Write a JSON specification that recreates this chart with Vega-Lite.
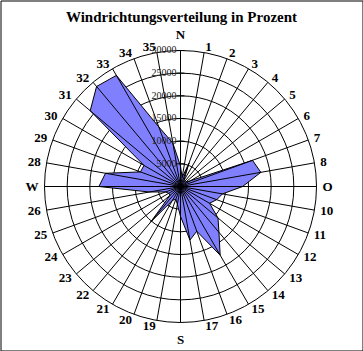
{
  "$schema": "https://vega.github.io/schema/vega-lite/v6.json",
  "width": 362,
  "height": 350,
  "autosize": {"type": "none"},
  "padding": {"left": 0.5, "top": 0.5, "right": 0.5, "bottom": 0.5},
  "background": "white",
  "config": {"view": {"stroke": "black", "strokeWidth": 1}},
  "title": {"text": "Windrichtungsverteilung in Prozent", "font": "Liberation Serif", "fontSize": 15, "fontWeight": "bold", "color": "black", "anchor": "middle", "frame": "group", "offset": -24},
  "datasets": {
    "dirs": [
      {"dir": 1, "value": 2000, "label": "1"},
      {"dir": 2, "value": 5500, "label": "2"},
      {"dir": 3, "value": 1500, "label": "3"},
      {"dir": 4, "value": 1500, "label": "4"},
      {"dir": 5, "value": 1500, "label": "5"},
      {"dir": 6, "value": 2500, "label": "6"},
      {"dir": 7, "value": 16900, "label": "7"},
      {"dir": 8, "value": 18000, "label": "8"},
      {"dir": 9, "value": 13700, "label": "O"},
      {"dir": 10, "value": 9400, "label": "10"},
      {"dir": 11, "value": 8500, "label": "11"},
      {"dir": 12, "value": 7400, "label": "12"},
      {"dir": 13, "value": 10800, "label": "13"},
      {"dir": 14, "value": 13200, "label": "14"},
      {"dir": 15, "value": 17500, "label": "15"},
      {"dir": 16, "value": 10500, "label": "16"},
      {"dir": 17, "value": 12000, "label": "17"},
      {"dir": 18, "value": 6600, "label": "S"},
      {"dir": 19, "value": 4000, "label": "19"},
      {"dir": 20, "value": 3000, "label": "20"},
      {"dir": 21, "value": 3500, "label": "21"},
      {"dir": 22, "value": 10300, "label": "22"},
      {"dir": 23, "value": 3000, "label": "23"},
      {"dir": 24, "value": 3000, "label": "24"},
      {"dir": 25, "value": 3500, "label": "25"},
      {"dir": 26, "value": 7000, "label": "26"},
      {"dir": 27, "value": 18000, "label": "W"},
      {"dir": 28, "value": 16800, "label": "28"},
      {"dir": 29, "value": 9400, "label": "29"},
      {"dir": 30, "value": 9300, "label": "30"},
      {"dir": 31, "value": 26000, "label": "31"},
      {"dir": 32, "value": 28800, "label": "32"},
      {"dir": 33, "value": 28300, "label": "33"},
      {"dir": 34, "value": 14000, "label": "34"},
      {"dir": 35, "value": 9700, "label": "35"},
      {"dir": 36, "value": 4500, "label": "N"}
    ],
    "rings": [
      {"r": 5000}, {"r": 10000}, {"r": 15000}, {"r": 20000}, {"r": 25000}, {"r": 30000}
    ]
  },
  "layer": [
    {
      "data": {"name": "rings"},
      "mark": {"type": "point", "shape": "circle", "filled": false, "stroke": "black", "strokeWidth": 1, "opacity": 1},
      "encoding": {
        "x": {"datum": 0, "type": "quantitative", "scale": {"domain": [-39706, 40147], "nice": false, "zero": false}, "axis": null},
        "y": {"datum": 0, "type": "quantitative", "scale": {"domain": [-36176, 41029], "nice": false, "zero": false}, "axis": null},
        "size": {"field": "r", "type": "quantitative", "scale": {"type": "pow", "exponent": 2, "domain": [0, 30000], "range": [0, 73984], "zero": true}, "legend": null}
      }
    },
    {
      "data": {"name": "dirs"},
      "transform": [
        {"calculate": "datum.dir*PI/18", "as": "a"},
        {"calculate": "datum.value*sin(datum.a)", "as": "px"},
        {"calculate": "datum.value*cos(datum.a)", "as": "py"}
      ],
      "mark": {"type": "line", "interpolate": "linear-closed", "fill": "#8080FF", "stroke": "black", "strokeWidth": 1},
      "encoding": {
        "x": {"field": "px", "type": "quantitative", "scale": {"domain": [-39706, 40147], "nice": false, "zero": false}, "axis": null},
        "y": {"field": "py", "type": "quantitative", "scale": {"domain": [-36176, 41029], "nice": false, "zero": false}, "axis": null},
        "order": {"field": "dir", "type": "quantitative"}
      }
    },
    {
      "data": {"name": "dirs"},
      "transform": [
        {"calculate": "datum.dir*PI/18", "as": "a"},
        {"calculate": "30000*sin(datum.a)", "as": "ex"},
        {"calculate": "30000*cos(datum.a)", "as": "ey"},
        {"calculate": "0", "as": "z"}
      ],
      "mark": {"type": "rule", "stroke": "black", "strokeWidth": 1},
      "encoding": {
        "x": {"field": "ex", "type": "quantitative", "scale": {"domain": [-39706, 40147], "nice": false, "zero": false}, "axis": null},
        "y": {"field": "ey", "type": "quantitative", "scale": {"domain": [-36176, 41029], "nice": false, "zero": false}, "axis": null},
        "x2": {"field": "z"},
        "y2": {"field": "z"}
      }
    },
    {
      "data": {"name": "rings"},
      "transform": [
        {"calculate": "-880", "as": "t1"},
        {"calculate": "880", "as": "t2"}
      ],
      "mark": {"type": "rule", "stroke": "black", "strokeWidth": 1},
      "encoding": {
        "x": {"field": "t1", "type": "quantitative", "scale": {"domain": [-39706, 40147], "nice": false, "zero": false}, "axis": null},
        "x2": {"field": "t2"},
        "y": {"field": "r", "type": "quantitative", "scale": {"domain": [-36176, 41029], "nice": false, "zero": false}, "axis": null}
      }
    },
    {
      "data": {"name": "rings"},
      "transform": [{"calculate": "0", "as": "z"}],
      "mark": {"type": "text", "align": "right", "baseline": "middle", "dx": -4, "font": "Liberation Serif", "fontSize": 10, "color": "#222222"},
      "encoding": {
        "x": {"field": "z", "type": "quantitative", "scale": {"domain": [-39706, 40147], "nice": false, "zero": false}, "axis": null},
        "y": {"field": "r", "type": "quantitative", "scale": {"domain": [-36176, 41029], "nice": false, "zero": false}, "axis": null},
        "text": {"field": "r", "type": "quantitative", "format": "d"}
      }
    },
    {
      "data": {"name": "dirs"},
      "transform": [
        {"filter": "datum.dir < 18"},
        {"calculate": "datum.dir*PI/18", "as": "a"},
        {"calculate": "31300*sin(datum.a)", "as": "lx"},
        {"calculate": "31300*cos(datum.a)", "as": "ly"}
      ],
      "mark": {"type": "text", "align": "left", "baseline": "middle", "font": "Liberation Serif", "fontSize": 13, "fontWeight": "bold", "color": "black"},
      "encoding": {
        "x": {"field": "lx", "type": "quantitative", "scale": {"domain": [-39706, 40147], "nice": false, "zero": false}, "axis": null},
        "y": {"field": "ly", "type": "quantitative", "scale": {"domain": [-36176, 41029], "nice": false, "zero": false}, "axis": null},
        "text": {"field": "label", "type": "nominal"}
      }
    },
    {
      "data": {"name": "dirs"},
      "transform": [
        {"filter": "datum.dir > 18 && datum.dir < 36"},
        {"calculate": "datum.dir*PI/18", "as": "a"},
        {"calculate": "31300*sin(datum.a)", "as": "lx"},
        {"calculate": "31300*cos(datum.a)", "as": "ly"}
      ],
      "mark": {"type": "text", "align": "right", "baseline": "middle", "font": "Liberation Serif", "fontSize": 13, "fontWeight": "bold", "color": "black"},
      "encoding": {
        "x": {"field": "lx", "type": "quantitative", "scale": {"domain": [-39706, 40147], "nice": false, "zero": false}, "axis": null},
        "y": {"field": "ly", "type": "quantitative", "scale": {"domain": [-36176, 41029], "nice": false, "zero": false}, "axis": null},
        "text": {"field": "label", "type": "nominal"}
      }
    },
    {
      "data": {"name": "dirs"},
      "transform": [
        {"filter": "datum.dir == 36"},
        {"calculate": "datum.dir*PI/18", "as": "a"},
        {"calculate": "31300*sin(datum.a)", "as": "lx"},
        {"calculate": "31300*cos(datum.a)", "as": "ly"}
      ],
      "mark": {"type": "text", "align": "center", "baseline": "bottom", "dy": -3, "font": "Liberation Serif", "fontSize": 13, "fontWeight": "bold", "color": "black"},
      "encoding": {
        "x": {"field": "lx", "type": "quantitative", "scale": {"domain": [-39706, 40147], "nice": false, "zero": false}, "axis": null},
        "y": {"field": "ly", "type": "quantitative", "scale": {"domain": [-36176, 41029], "nice": false, "zero": false}, "axis": null},
        "text": {"field": "label", "type": "nominal"}
      }
    },
    {
      "data": {"name": "dirs"},
      "transform": [
        {"filter": "datum.dir == 18"},
        {"calculate": "datum.dir*PI/18", "as": "a"},
        {"calculate": "31300*sin(datum.a)", "as": "lx"},
        {"calculate": "31300*cos(datum.a)", "as": "ly"}
      ],
      "mark": {"type": "text", "align": "center", "baseline": "top", "dy": 6, "font": "Liberation Serif", "fontSize": 13, "fontWeight": "bold", "color": "black"},
      "encoding": {
        "x": {"field": "lx", "type": "quantitative", "scale": {"domain": [-39706, 40147], "nice": false, "zero": false}, "axis": null},
        "y": {"field": "ly", "type": "quantitative", "scale": {"domain": [-36176, 41029], "nice": false, "zero": false}, "axis": null},
        "text": {"field": "label", "type": "nominal"}
      }
    }
  ]
}
